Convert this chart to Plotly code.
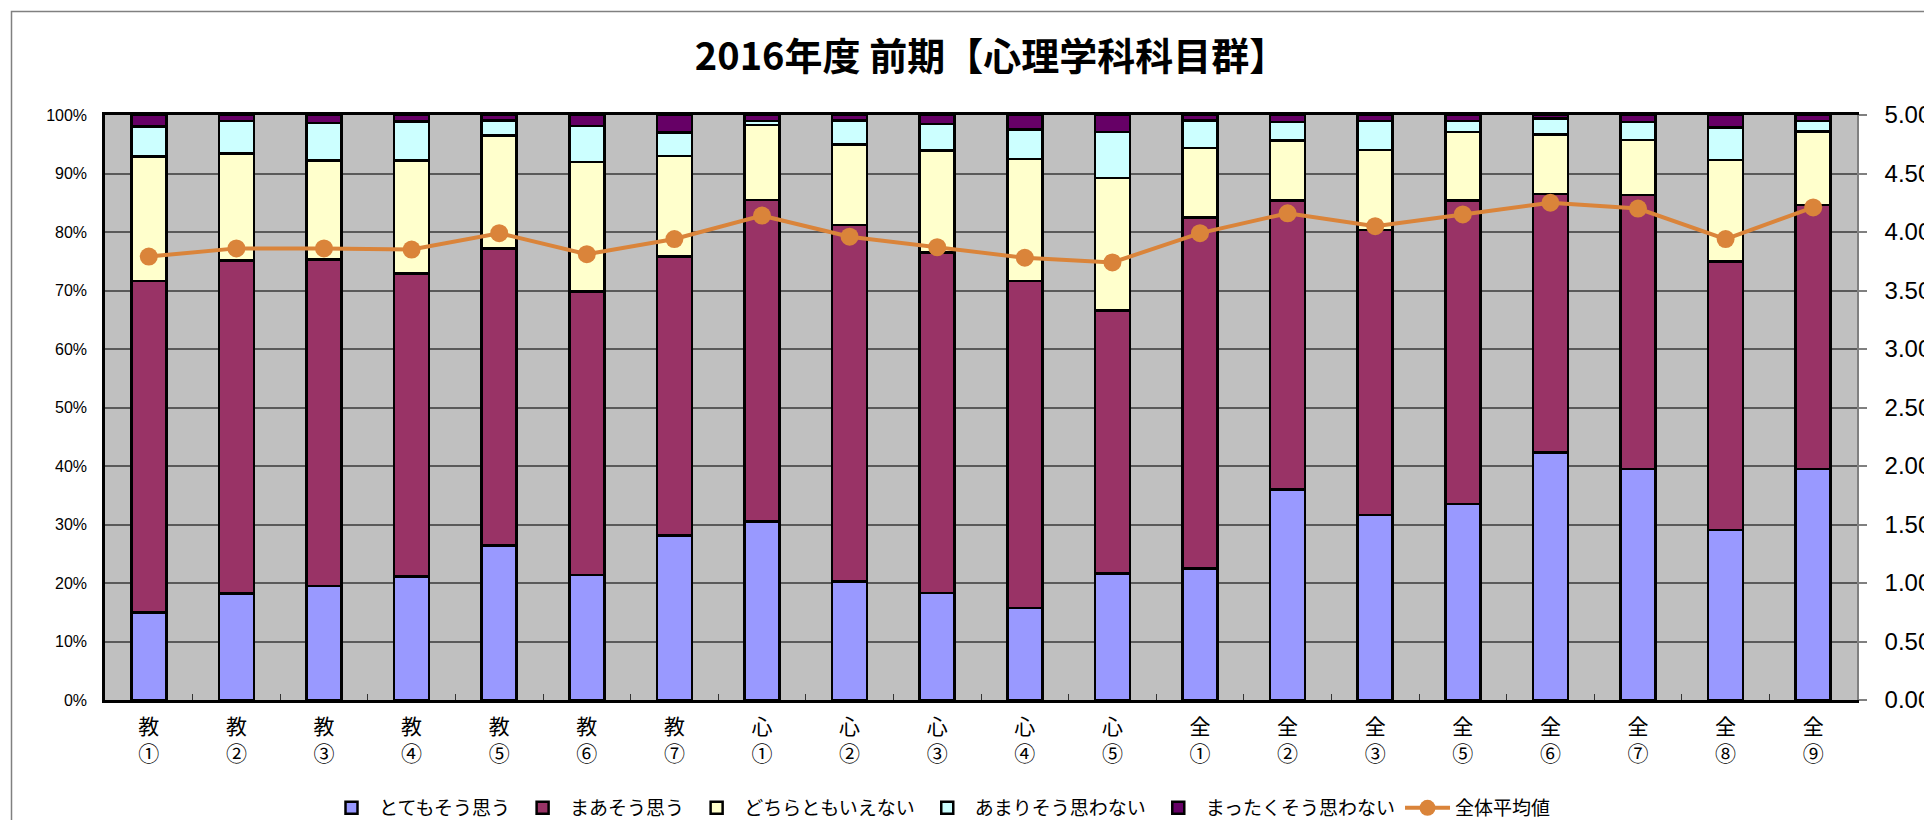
import plotly.graph_objects as go

categories = ["教<br>①", "教<br>②", "教<br>③", "教<br>④", "教<br>⑤", "教<br>⑥", "教<br>⑦",
              "心<br>①", "心<br>②", "心<br>③", "心<br>④", "心<br>⑤",
              "全<br>①", "全<br>②", "全<br>③", "全<br>⑤", "全<br>⑥", "全<br>⑦", "全<br>⑧", "全<br>⑨"]

totemo = [15.0, 18.2, 19.5, 21.1, 26.4, 21.4, 28.1, 30.5, 20.3, 18.3, 15.7, 21.6,
          22.5, 36.0, 31.6, 33.5, 42.3, 39.5, 29.1, 39.5]
maa = [56.6, 56.9, 55.8, 51.8, 50.8, 48.4, 47.7, 55.0, 60.9, 58.2, 55.9, 45.0,
       60.0, 49.4, 48.7, 51.9, 44.2, 46.8, 45.9, 45.1]
dochira = [21.3, 18.3, 16.9, 19.3, 19.3, 22.2, 17.2, 12.8, 13.8, 17.4, 20.9, 22.6,
           11.9, 10.2, 13.7, 11.7, 10.2, 9.4, 17.3, 12.6]
amari = [5.1, 5.6, 6.4, 6.7, 2.6, 6.1, 4.0, 0.7, 4.1, 4.6, 5.0, 7.9,
         4.7, 3.2, 5.0, 1.9, 2.7, 3.1, 5.6, 1.8]
mattaku = [2.0, 1.0, 1.4, 1.1, 0.9, 1.9, 3.0, 1.0, 0.9, 1.5, 2.5, 2.9,
           0.9, 1.2, 1.0, 1.0, 0.6, 1.2, 2.1, 1.0]
average = [3.79, 3.86, 3.86, 3.85, 3.99, 3.81, 3.94, 4.14, 3.96, 3.87, 3.78, 3.74,
           3.99, 4.16, 4.05, 4.15, 4.25, 4.20, 3.94, 4.21]

left_ticks = [0, 10, 20, 30, 40, 50, 60, 70, 80, 90, 100]
left_ticktext = ["0%", "10%", "20%", "30%", "40%", "50%", "60%", "70%", "80%", "90%", "100%"]
right_ticks = [0, 0.5, 1.0, 1.5, 2.0, 2.5, 3.0, 3.5, 4.0, 4.5, 5.0]

bar_series = [
    ("とてもそう思う", totemo, "#9999FF"),
    ("まあそう思う", maa, "#993366"),
    ("どちらともいえない", dochira, "#FFFFCC"),
    ("あまりそう思わない", amari, "#CCFFFF"),
    ("まったくそう思わない", mattaku, "#660066"),
]

fig = go.Figure()
for name, vals, color in bar_series:
    fig.add_trace(go.Bar(
        x=categories, y=vals, name=name,
        marker=dict(color=color, line=dict(color="black", width=2.5)),
        yaxis="y",
    ))

fig.add_trace(go.Scatter(
    x=categories, y=average, name="全体平均値", mode="lines+markers",
    line=dict(color="#DA843A", width=4),
    marker=dict(color="#DA843A", size=18),
    yaxis="y2", cliponaxis=False,
))

# page has an 8px body margin; figure sized to fit the window exactly
OFF = 8
W, H = 1932 - OFF, 820 - OFF
L, T = 105 - OFF, 115 - OFF
R = W - (1857 - OFF)
B = H - (700 - OFF)
pw, ph = W - L - R, H - T - B

def px_x(x_page):
    return (x_page - OFF - L) / pw

def px_y(y_page):
    return (H - B - (y_page - OFF)) / ph

fig.update_layout(
    width=W, height=H,
    margin=dict(l=L, r=R, t=T, b=B, autoexpand=False),
    paper_bgcolor="white",
    plot_bgcolor="#C0C0C0",
    barmode="stack",
    bargap=0.6,
    title=dict(
        text="2016年度 前期【心理学科科目群】",
        x=px_x(991), xanchor="center", xref="paper",
        y=1 - (57 - OFF) / H, yanchor="middle", yref="container",
        font=dict(family="Noto Sans CJK JP", size=38, color="black", weight="bold"),
    ),
    xaxis=dict(
        type="category", range=[-0.5, len(categories) - 0.5], automargin=False,
        showline=True, linecolor="black", linewidth=2.5, mirror=True,
        ticks="inside", tickson="boundaries", ticklen=6, tickcolor="#333333", tickwidth=1,
        tickfont=dict(family="Noto Sans CJK JP", size=21, color="black"),
        ticklabelstandoff=6,
        showgrid=False,
    ),
    yaxis=dict(
        range=[0, 100], tickvals=left_ticks, ticktext=left_ticktext, automargin=False,
        showline=True, linecolor="black", linewidth=2.5,
        ticks="", showgrid=True, gridcolor="#5A5A5A", gridwidth=1.5,
        tickfont=dict(family="Liberation Sans", size=16, color="black"),
        ticklabelstandoff=12,
        zeroline=False,
    ),
    yaxis2=dict(
        range=[0, 5], tickvals=right_ticks, tickformat=".2f", automargin=False,
        overlaying="y", side="right",
        showline=True, linecolor="#808080", linewidth=1.5,
        ticks="outside", ticklen=8, tickcolor="#808080", tickwidth=1.5,
        showgrid=False, zeroline=False,
        tickfont=dict(family="Liberation Sans", size=24, color="black"),
        ticklabelstandoff=13,
    ),
    legend=dict(
        orientation="h", traceorder="normal",
        x=px_x(940), xanchor="center", xref="paper",
        y=px_y(808), yanchor="middle", yref="paper",
        font=dict(family="Noto Sans CJK JP", size=19, color="black"),
        itemwidth=45,
        bgcolor="rgba(0,0,0,0)",
    ),
    shapes=[dict(
        type="rect", xref="paper", yref="paper",
        x0=px_x(11.5), x1=px_x(1960), y0=px_y(860), y1=px_y(11.5),
        line=dict(color="#808080", width=1.5), fillcolor="rgba(0,0,0,0)",
        layer="below",
    )],
)

fig.write_html("out.html")
